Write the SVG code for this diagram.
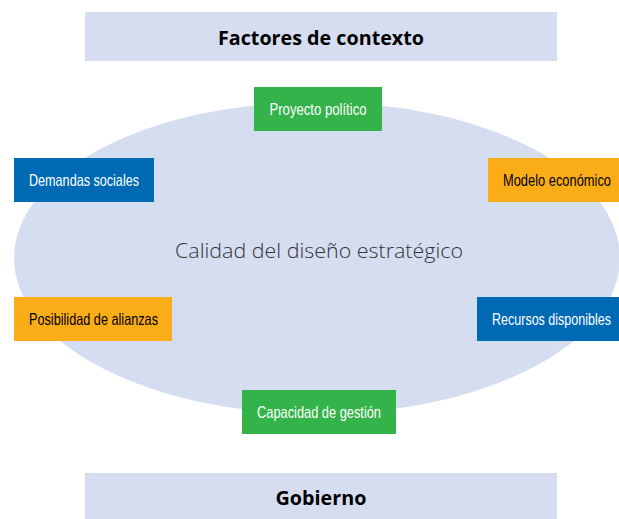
<svg xmlns="http://www.w3.org/2000/svg" width="619" height="519" viewBox="0 0 619 519">
<style>
.band{fill:#d6ddf0}
.hdr{font-family:"Open Sans","Liberation Sans",sans-serif;font-weight:bold;font-size:20px;fill:#000;text-anchor:middle}
.lbl{font-family:"Liberation Sans","Open Sans",sans-serif;font-size:16.5px;text-anchor:middle}
.w{fill:#fff}
.k{fill:#000}
.blue{fill:#0069b4}
.green{fill:#33b34a}
.orange{fill:#fbad18}
</style>
<rect width="619" height="519" fill="#fff"/>
<g id="ellipse">
<ellipse cx="317" cy="258" rx="303" ry="156" fill="#d5ddf1"/>
<text x="319" y="258" font-family="'Open Sans','Liberation Sans',sans-serif" font-weight="300" font-size="21" fill="#333" text-anchor="middle" textLength="288" lengthAdjust="spacingAndGlyphs">Calidad del diseño estratégico</text>
</g>
<g id="top-band">
<rect class="band" x="85" y="12" width="472" height="49"/>
<text class="hdr" x="321" y="45" textLength="206" lengthAdjust="spacingAndGlyphs">Factores de contexto</text>
</g>
<g id="bottom-band">
<rect class="band" x="85" y="473" width="472" height="46"/>
<text class="hdr" x="321" y="505" textLength="91" lengthAdjust="spacingAndGlyphs">Gobierno</text>
</g>
<g id="connectors"></g>
<g id="proyecto">
<rect class="green" x="254" y="87" width="128" height="44"/>
<text class="lbl w" x="318" y="115" textLength="97" lengthAdjust="spacingAndGlyphs">Proyecto político</text>
</g>
<g id="demandas">
<rect class="blue" x="14" y="158" width="140" height="44"/>
<text class="lbl w" x="84" y="186" textLength="110" lengthAdjust="spacingAndGlyphs">Demandas sociales</text>
</g>
<g id="modelo">
<rect class="orange" x="488" y="158" width="131" height="44"/>
<text class="lbl k" x="557" y="186" textLength="108" lengthAdjust="spacingAndGlyphs">Modelo económico</text>
</g>
<g id="alianzas">
<rect class="orange" x="14" y="297" width="158" height="44"/>
<text class="lbl k" x="93.5" y="325" textLength="129" lengthAdjust="spacingAndGlyphs">Posibilidad de alianzas</text>
</g>
<g id="recursos">
<rect class="blue" x="477" y="297" width="142" height="44"/>
<text class="lbl w" x="551.5" y="325" textLength="119" lengthAdjust="spacingAndGlyphs">Recursos disponibles</text>
</g>
<g id="capacidad">
<rect class="green" x="242" y="390" width="154" height="44"/>
<text class="lbl w" x="319" y="418" textLength="124" lengthAdjust="spacingAndGlyphs">Capacidad de gestión</text>
</g>
</svg>
